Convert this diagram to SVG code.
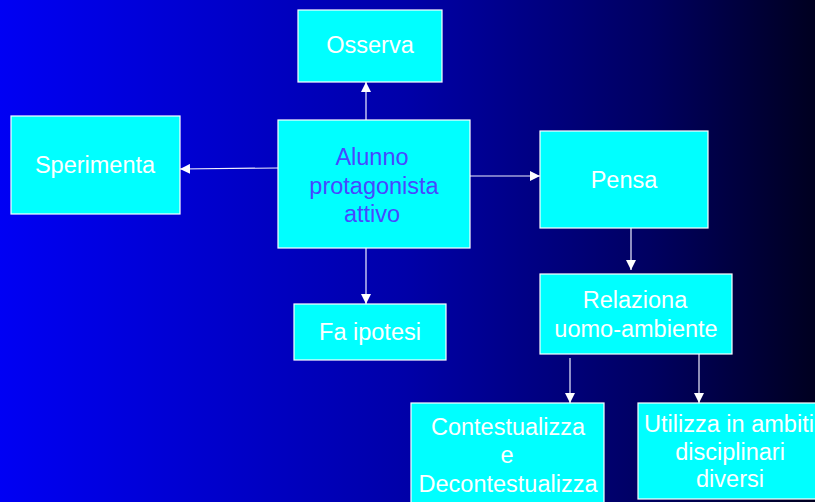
<svg xmlns="http://www.w3.org/2000/svg" width="815" height="502" viewBox="0 0 815 502">
<defs>
<linearGradient id="bg" x1="0" y1="0" x2="1" y2="0">
<stop offset="0" stop-color="#0000f4"/>
<stop offset="0.5" stop-color="#0000a8"/>
<stop offset="0.8" stop-color="#000060"/>
<stop offset="1" stop-color="#000020"/>
</linearGradient>
<marker id="ah" markerWidth="10" markerHeight="10" refX="10" refY="5" orient="auto" markerUnits="userSpaceOnUse">
<path d="M0,0 L10,5 L0,10 Z" fill="#ffffff"/>
</marker>
<style>
.box{fill:#00ffff;stroke:#ffffff;stroke-width:1.2}
.t{font-family:"Liberation Sans",Arial,sans-serif;font-size:23.5px;fill:#ffffff;text-anchor:middle}
.b{fill:#4848ff}
.c{stroke:#f0f0ff;stroke-width:1.2;fill:none;marker-end:url(#ah)}
</style>
</defs>
<rect x="0" y="0" width="815" height="502" fill="url(#bg)"/>
<g id="connectors">
<line class="c" x1="366" y1="120" x2="366" y2="82"/>
<line class="c" x1="278" y1="168" x2="180" y2="169"/>
<line class="c" x1="470" y1="176" x2="540" y2="176"/>
<line class="c" x1="366" y1="248" x2="366" y2="304"/>
<line class="c" x1="631" y1="222" x2="631" y2="270"/>
<line class="c" x1="570" y1="358" x2="570" y2="403"/>
<line class="c" x1="699" y1="350" x2="699" y2="403"/>
</g>
<g id="osserva"><rect class="box" x="298" y="10" width="144" height="72"/><text class="t" x="370" y="53">Osserva</text></g>
<g id="alunno"><rect class="box" x="278" y="120" width="192" height="128"/><text class="t b" x="372" y="165">Alunno</text><text class="t b" x="374" y="193.5">protagonista</text><text class="t b" x="372" y="222">attivo</text></g>
<g id="sperimenta"><rect class="box" x="11" y="116" width="169" height="98"/><text class="t" x="95" y="173">Sperimenta</text></g>
<g id="pensa"><rect class="box" x="540" y="131" width="168" height="97"/><text class="t" x="624" y="188">Pensa</text></g>
<g id="faipotesi"><rect class="box" x="294" y="304" width="152" height="56"/><text class="t" x="370" y="340">Fa ipotesi</text></g>
<g id="relaziona"><rect class="box" x="540" y="274" width="192" height="80"/><text class="t" x="635" y="308">Relaziona</text><text class="t" x="636" y="337">uomo-ambiente</text></g>
<g id="contestualizza"><rect class="box" x="411" y="403" width="193" height="110"/><text class="t" x="508" y="435">Contestualizza</text><text class="t" x="507" y="463">e</text><text class="t" x="508" y="492">Decontestualizza</text></g>
<g id="utilizza"><rect class="box" x="638" y="403" width="200" height="96"/><text class="t" x="729" y="432">Utilizza in ambiti</text><text class="t" x="730" y="460">disciplinari</text><text class="t" x="730" y="487">diversi</text></g>
</svg>
